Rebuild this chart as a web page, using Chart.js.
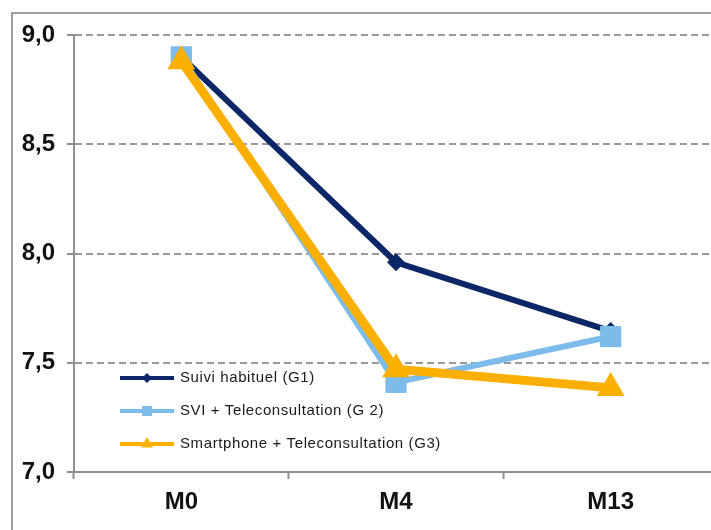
<!DOCTYPE html>
<html lang="fr">
<head>
  <meta charset="UTF-8" />
  <title>Evolution HbA1c</title>
  <script src="https://cdn.jsdelivr.net/npm/chart.js"></script>
  <style>
    body {
      margin: 0; padding: 0;
      background: white;
      overflow: hidden;
      font-family: Arial, "Liberation Sans", sans-serif;
    }
    #frame {
      position: absolute;
      left: 11px; top: 12px;
      width: 900px; height: 700px;
      border: 2px solid #a0a0a0;
    }
    #wrap {
      position: absolute;
      left: 0; top: 0;
      width: 734px; height: 530px;
    }
  </style>
</head>
<body>
  <div id="frame"></div>
  <div id="wrap"><canvas id="lineChart" width="734" height="530" style="width:734px;height:530px"></canvas></div>

  <script>
    const categories = ["M0", "M4", "M13"];
    const g1Values = [8.90, 7.96, 7.645];
    const g2Values = [8.90, 7.41, 7.62];
    const g3Values = [8.88, 7.47, 7.385];
    const yTicks = [7.0, 7.5, 8.0, 8.5, 9.0];
    const seriesNames = [
      "Suivi habituel (G1)",
      "SVI + Teleconsultation (G 2)",
      "Smartphone + Teleconsultation (G3)"
    ];

    // legend drawn inside the plot, lower left
    const insideLegend = {
      id: "insideLegend",
      afterDraw(chart) {
        const ctx = chart.ctx;
        const rows = [378, 411, 444];
        ctx.save();
        chart.data.datasets.forEach((ds, i) => {
          const y = rows[i];
          ctx.strokeStyle = ds.borderColor;
          ctx.lineWidth = 4;
          ctx.beginPath();
          ctx.moveTo(120, y);
          ctx.lineTo(174, y);
          ctx.stroke();
          ctx.fillStyle = ds.borderColor;
          Chart.helpers.drawPoint(ctx, {
            pointStyle: ds.pointStyle,
            radius: ds.legendRadius,
            borderWidth: 0
          }, 147, y);
          ctx.fillStyle = "#1a1a1a";
          ctx.font = "15px Arial, 'Liberation Sans'";
          ctx.letterSpacing = "0.6px";
          ctx.textBaseline = "middle";
          ctx.fillText(ds.label, 180, y);
        });
        ctx.restore();
      }
    };

    new Chart(document.getElementById("lineChart").getContext("2d"), {
      type: "line",
      data: {
        labels: categories,
        datasets: [
          {
            label: seriesNames[0],
            data: g1Values,
            borderColor: "#0b2767",
            backgroundColor: "#0b2767",
            borderWidth: 6,
            pointStyle: "rectRot",
            pointRadius: 9,
            pointBorderWidth: 0,
            legendRadius: 5,
            order: 3
          },
          {
            label: seriesNames[1],
            data: g2Values,
            borderColor: "#7dbbea",
            backgroundColor: "#7dbbea",
            borderWidth: 6,
            pointStyle: "rect",
            pointRadius: 15,
            pointBorderWidth: 0,
            legendRadius: 7,
            order: 2
          },
          {
            label: seriesNames[2],
            data: g3Values,
            borderColor: "#fbb000",
            backgroundColor: "#fbb000",
            borderWidth: 9,
            pointStyle: "triangle",
            pointRadius: 16,
            pointBorderWidth: 0,
            legendRadius: 7,
            order: 1
          }
        ]
      },
      options: {
        responsive: false,
        animation: false,
        layout: { padding: { top: 35, right: 0, left: 0, bottom: 0 } },
        plugins: {
          legend: { display: false },
          tooltip: { enabled: false }
        },
        elements: {
          line: { tension: 0 }
        },
        scales: {
          x: {
            offset: true,
            afterFit: s => { s.height = 58; },
            grid: {
              offset: true,
              drawOnChartArea: false,
              drawTicks: true,
              tickLength: 7,
              tickColor: "#909090",
              tickWidth: 2
            },
            border: { color: "#909090", width: 2 },
            ticks: {
              color: "#111",
              padding: 9,
              font: { family: "Arial, 'Liberation Sans'", size: 24, weight: "bold" }
            }
          },
          y: {
            min: 7.0,
            max: 9.0,
            afterFit: s => { s.width = 74; },
            afterBuildTicks: s => { s.ticks = yTicks.map(v => ({ value: v })); },
            grid: {
              color: "#999",
              lineWidth: 2,
              drawTicks: true,
              tickLength: 7,
              tickColor: "#909090",
              tickWidth: 2,
              tickBorderDash: []
            },
            border: { color: "#909090", width: 2, dash: [7, 4] },
            ticks: {
              color: "#111",
              padding: 12,
              font: { family: "Arial, 'Liberation Sans'", size: 24, weight: "bold" },
              callback: v => v.toFixed(1).replace(".", ",")
            }
          }
        }
      },
      plugins: [insideLegend]
    });
  </script>
</body>
</html>
